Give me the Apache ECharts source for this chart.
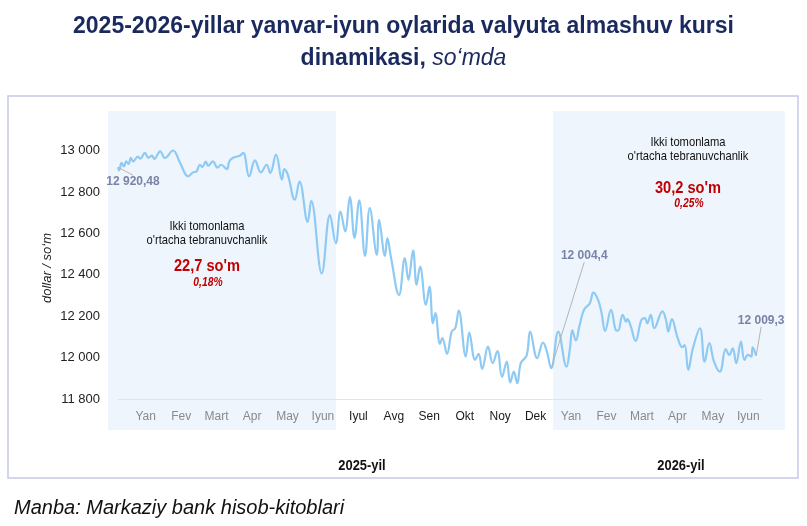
<!DOCTYPE html>
<html>
<head>
<meta charset="utf-8">
<script src="https://cdn.jsdelivr.net/npm/echarts@6/dist/echarts.min.js"></script>
<style>
  html, body { margin: 0; padding: 0; background: #fff; }
  #main { width: 807px; height: 526px; }
</style>
</head>
<body>
<div id="main"></div>
<script>
// kun (2025-01-01 dan) va kurs, so'm
var days = [0,1,3,5,7,9,11,13,17,19,23,26,29,31,36,40,47,53,60,64,67,70,72,75,77,81,85,88,93,95,98,104,107,112,117,122,127,130,135,140,142,145,151,155,162,165,174,181,186,190,194,198,202,206,211,215,221,223,228,230,233,240,245,248,252,255,258,263,266,269,271,275,277,281,285,288,291,297,300,305,308,311,316,320,324,328,332,335,338,341,344,349,352,358,363,366,370,376,383,386,388,391,394,398,403,406,410,413,416,421,425,427,431,434,435,438,442,447,450,452,455,458,465,468,470,473,478,482,484,487,491,497,501,505,509,514,519,522,525,528,532,535,538,541,542,545]
var rates = [12920,12905,12941,12924,12948,12936,12965,12948,12972,12961,12989,12965,12976,12960,12997,12965,13001,12941,12876,12895,12900,12932,12921,12947,12927,12948,12918,12932,12911,12948,12965,12976,12989,12876,12953,12895,12932,12892,12981,12860,12911,12884,12763,12851,12656,12758,12407,12690,12553,12706,12610,12776,12578,12760,12492,12723,12497,12666,12492,12578,12489,12303,12481,12376,12518,12352,12440,12255,12343,12166,12215,12066,12094,12018,12126,12142,12227,12005,12121,11989,12018,11945,12053,11973,12032,11907,11981,11880,11932,11876,11973,12011,12126,11997,12073,12035,11949,12126,11956,12045,12132,12083,12150,12231,12263,12314,12279,12215,12129,12231,12134,12130,12207,12174,12186,12150,12081,12182,12191,12166,12207,12142,12223,12182,12126,12186,12094,12050,12061,11941,12045,12142,11981,12070,11981,11932,12041,12013,12045,11973,12077,11989,12013,12005,12050,12009]

var months = ['Yan','Fev','Mart','Apr','May','Iyun','Iyul','Avg','Sen','Okt','Noy','Dek','Yan','Fev','Mart','Apr','May','Iyun']
var annotDays = [0, 370, 545]
var annotTexts = ['12 920,48', '12 004,4', '12 009,3']
var annotOffsets = [[15, 14], [33, -112], [5, -35]]

var years = ['2025-yil', '2026-yil']
var volLeft = ['22,7 so\'m', '0,18%']
var volRight = ['30,2 so\'m', '0,25%']

var lineData = days.map(function (d, i) { return [d, rates[i]] })
var annotData = annotDays.map(function (d) { return [d, rates[days.indexOf(d)]] })

var chart = echarts.init(document.getElementById('main'))
var ff = "'Liberation Sans', Arial, sans-serif"

function fmt(v) {
  var s = String(v)
  return s.length > 3 ? s.slice(0, s.length - 3) + ' ' + s.slice(-3) : s
}

// narrow text (reference uses a condensed face)
function txt(x, y, text, font, color, align, sx) {
  return {
    type: 'text', z: 5, x: x, y: y, scaleX: sx || 0.86,
    style: { x: 0, y: 0, text: text, fill: color, font: font + ' ' + ff, align: align || 'center', verticalAlign: 'middle' }
  }
}

var option = {
  animation: false,
  title: {
    text: '2025-2026-yillar yanvar-iyun oylarida valyuta almashuv kursi\n{b|dinamikasi,} {i|so‘mda}',
    left: 'center',
    top: 6,
    textStyle: {
      fontFamily: 'Liberation Sans',
      fontSize: 23,
      fontWeight: 'bold',
      color: '#1b2a5e',
      lineHeight: 32,
      rich: {
        b: { fontFamily: 'Liberation Sans', fontSize: 23, fontWeight: 'bold', color: '#1b2a5e', lineHeight: 32 },
        i: { fontFamily: 'Liberation Sans', fontSize: 23, fontStyle: 'italic', fontWeight: 'normal', color: '#1b2a5e', lineHeight: 32 }
      }
    }
  },
  grid: [
    { left: 118, right: 45, top: 130, bottom: 127 },
    { left: 128, right: 41, top: 130, bottom: 127 }
  ],
  xAxis: [
    {
      type: 'value', gridIndex: 0, min: 0, max: 550,
      axisLine: { show: true, lineStyle: { color: '#e3e3e3', width: 1 } },
      axisTick: { show: false }, axisLabel: { show: false }, splitLine: { show: false }
    },
    {
      type: 'category', gridIndex: 1, data: months, boundaryGap: true,
      axisLine: { show: false }, axisTick: { show: false },
      axisLabel: {
        margin: 12, fontSize: 12, fontFamily: 'Liberation Sans',
        color: function (v, i) { return (i >= 6 && i < 12) ? '#1a1a1a' : '#8a8a8a' }
      }
    }
  ],
  yAxis: [
    {
      type: 'value', gridIndex: 0, min: 11800, max: 13100, interval: 200,
      axisLine: { show: false }, axisTick: { show: false }, splitLine: { show: false },
      axisLabel: { showMaxLabel: false, margin: 18, fontSize: 13, color: '#222', fontFamily: 'Liberation Sans', formatter: fmt }
    },
    { type: 'value', gridIndex: 1, show: false }
  ],
  series: [
    {
      type: 'line', xAxisIndex: 0, yAxisIndex: 0, data: lineData,
      smooth: 0.4, showSymbol: false, symbol: 'none',
      lineStyle: { color: '#8ecaf3', width: 2.2 }, z: 3
    },
    {
      type: 'scatter', xAxisIndex: 0, yAxisIndex: 0, data: annotData,
      symbolSize: 1, itemStyle: { color: 'rgba(0,0,0,0)' }, z: 4,
      label: {
        show: true, fontSize: 12, fontWeight: 'bold', color: '#5b6792', fontFamily: 'Liberation Sans',
        formatter: function (p) { return annotTexts[p.dataIndex] }
      },
      labelLine: { show: true, lineStyle: { color: '#b5b5b5', width: 1 } },
      labelLayout: function (p) {
        var o = annotOffsets[p.dataIndex]
        return {
          x: p.rect.x + p.rect.width / 2 + o[0],
          y: p.rect.y + p.rect.height / 2 + o[1],
          align: 'center', verticalAlign: 'middle'
        }
      }
    }
  ],
  graphic: [
    { type: 'rect', z: -10, shape: { x: 8, y: 96, width: 790, height: 382 }, style: { fill: '#fff', stroke: '#c6c9e6', lineWidth: 1.5 } },
    { type: 'rect', z: -9, shape: { x: 108, y: 111, width: 228, height: 319 }, style: { fill: '#eff5fc' } },
    { type: 'rect', z: -9, shape: { x: 553, y: 111, width: 232, height: 319 }, style: { fill: '#eff5fc' } },

    // y o'qi nomi
    {
      type: 'text', z: 5, x: 47, y: 268, rotation: Math.PI / 2,
      style: { x: 0, y: 0, text: 'dollar / so‘m', fill: '#222', font: 'italic 13px ' + ff, align: 'center', verticalAlign: 'middle' }
    },

    txt(207, 226, 'Ikki tomonlama', '13px', '#111'),
    txt(207, 240, 'o\'rtacha tebranuvchanlik', '13px', '#111'),
    txt(207, 266, volLeft[0], 'bold 17px', '#c00000'),
    txt(208, 283, volLeft[1], 'italic bold 12px', '#c00000'),

    txt(688, 142, 'Ikki tomonlama', '13px', '#111'),
    txt(688, 156, 'o\'rtacha tebranuvchanlik', '13px', '#111'),
    txt(688, 188, volRight[0], 'bold 17px', '#c00000'),
    txt(689, 204, volRight[1], 'italic bold 12px', '#c00000'),

    txt(362, 466, years[0], 'bold 15px', '#111'),
    txt(681, 466, years[1], 'bold 15px', '#111'),

    txt(14, 508, 'Manba: Markaziy bank hisob-kitoblari', 'italic 20px', '#111', 'left', 1)
  ]
}

chart.setOption(option)
</script>
</body>
</html>
